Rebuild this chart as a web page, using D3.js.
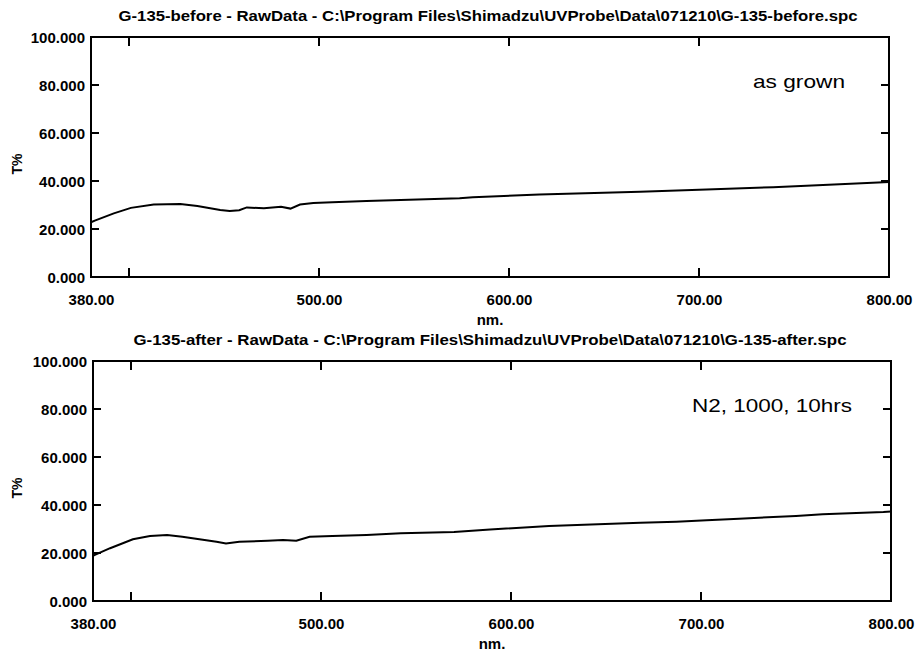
<!DOCTYPE html>
<html>
<head>
<meta charset="utf-8">
<script src="https://cdn.jsdelivr.net/npm/d3@7"></script>
<style>
  body { margin: 0; background: #fff; }
  text { font-family: "Liberation Sans", Arial, sans-serif; fill: #000; }
</style>
</head>
<body>
<div id="chart"></div>
<script>
// spectra (nm, T%)
const nmBefore = [380, 382, 392, 401, 413, 427, 436, 448, 453, 458, 462, 471, 480, 485, 490, 497, 507, 525, 543, 574, 581, 616, 669, 704, 739, 774, 800];
const tBefore  = [22.8, 23.5, 26.5, 28.8, 30.2, 30.4, 29.6, 27.9, 27.5, 27.8, 29.0, 28.6, 29.3, 28.5, 30.2, 30.8, 31.1, 31.7, 32.1, 32.8, 33.2, 34.4, 35.5, 36.5, 37.4, 38.6, 39.6];

const nmAfter = [380, 381, 389, 401, 410, 419, 427, 436, 445, 450, 457, 472, 480, 487, 494, 506, 524, 542, 570, 589, 620, 668, 687, 703, 720, 750, 764, 796, 800];
const tAfter  = [18.8, 19.2, 22.0, 25.7, 27.1, 27.5, 26.8, 25.7, 24.7, 24.0, 24.7, 25.1, 25.4, 25.1, 26.8, 27.1, 27.5, 28.2, 28.7, 29.8, 31.2, 32.6, 33.0, 33.6, 34.3, 35.4, 36.1, 37.1, 37.3];

const yTicks = [0, 20, 40, 60, 80, 100];
const xTickMarks = [400, 500, 600, 700];
const xTickLabels = [380, 500, 600, 700, 800];

const titles = [
  "G-135-before - RawData - C:\\Program Files\\Shimadzu\\UVProbe\\Data\\071210\\G-135-before.spc",
  "G-135-after - RawData - C:\\Program Files\\Shimadzu\\UVProbe\\Data\\071210\\G-135-after.spc"
];
const notes = ["as grown", "N2, 1000, 10hrs"];

const width = 915, height = 654;

const svg = d3.select("#chart")
  .append("svg")
  .attr("width", width)
  .attr("height", height);

const panels = [
  {left: 91, right: 889, top: 37, bottom: 277, nm: nmBefore, t: tBefore, title: titles[0], titleLen: 739,
   note: notes[0], noteX: 753, noteLen: 92},
  {left: 93, right: 891, top: 361, bottom: 601, nm: nmAfter, t: tAfter, title: titles[1], titleLen: 713,
   note: notes[1], noteX: 692, noteLen: 160}
];

panels.forEach(function(p) {
  const x = d3.scaleLinear().domain([380, 800]).range([p.left, p.right]);
  const y = d3.scaleLinear().domain([0, 100]).range([p.bottom, p.top]);
  const g = svg.append("g");
  const cx = (p.left + p.right) / 2;

  // title
  g.append("text")
    .attr("x", cx - 2).attr("y", p.top - 16)
    .attr("text-anchor", "middle")
    .attr("textLength", p.titleLen)
    .attr("lengthAdjust", "spacingAndGlyphs")
    .style("font-size", "15px").style("font-weight", "bold")
    .text(p.title);

  // left axis labels + inward ticks
  const yAxis = g.append("g")
    .attr("transform", `translate(${p.left},0)`)
    .call(d3.axisLeft(y).tickValues(yTicks).tickSize(0).tickPadding(6).tickFormat(d3.format(".3f")));
  yAxis.select(".domain").remove();
  yAxis.selectAll("text").style("font-size", "15px").style("font-weight", "bold").attr("dy", "0.36em");

  g.append("g").selectAll("line")
    .data(yTicks.filter(d => d > 0 && d < 100))
    .join("line")
      .attr("x1", p.left).attr("x2", p.left + 8)
      .attr("y1", d => y(d)).attr("y2", d => y(d));
  g.append("g").selectAll("line")
    .data(yTicks.filter(d => d > 0 && d < 100))
    .join("line")
      .attr("x1", p.right).attr("x2", p.right - 8)
      .attr("y1", d => y(d)).attr("y2", d => y(d));

  // bottom / top tick marks
  g.append("g").selectAll("line")
    .data(xTickMarks)
    .join("line")
      .attr("x1", d => x(d)).attr("x2", d => x(d))
      .attr("y1", p.bottom).attr("y2", p.bottom - 9);
  g.append("g").selectAll("line")
    .data(xTickMarks)
    .join("line")
      .attr("x1", d => x(d)).attr("x2", d => x(d))
      .attr("y1", p.top).attr("y2", p.top + 9);
  g.selectAll("line").attr("stroke", "#000").attr("stroke-width", 2);

  const xAxis = g.append("g")
    .attr("transform", `translate(0,${p.bottom})`)
    .call(d3.axisBottom(x).tickValues(xTickLabels).tickSize(0).tickPadding(0).tickFormat(d3.format(".2f")));
  xAxis.select(".domain").remove();
  xAxis.selectAll("text")
    .attr("y", 28).attr("dy", null)
    .style("font-size", "15px").style("font-weight", "bold");

  g.append("text")
    .attr("x", cx).attr("y", p.bottom + 48)
    .attr("text-anchor", "middle")
    .style("font-size", "15px").style("font-weight", "bold")
    .text("nm.");

  g.append("text")
    .attr("transform", `translate(22,${(p.top + p.bottom) / 2 + 7}) rotate(-90)`)
    .attr("text-anchor", "middle")
    .style("font-size", "14px").style("font-weight", "bold")
    .text("T%");

  // spectrum
  const pts = p.nm.map((d, i) => [d, p.t[i]]);
  g.append("path")
    .datum(pts)
    .attr("fill", "none")
    .attr("stroke", "#000")
    .attr("stroke-width", 2)
    .attr("d", d3.line().x(d => x(d[0])).y(d => y(d[1])));

  // frame
  g.append("rect")
    .attr("x", p.left).attr("y", p.top)
    .attr("width", p.right - p.left).attr("height", p.bottom - p.top)
    .attr("fill", "none").attr("stroke", "#000").attr("stroke-width", 2);

  g.append("text")
    .attr("x", p.noteX).attr("y", p.top + 51)
    .attr("textLength", p.noteLen)
    .attr("lengthAdjust", "spacingAndGlyphs")
    .style("font-size", "19px")
    .text(p.note);
});
</script>
</body>
</html>
